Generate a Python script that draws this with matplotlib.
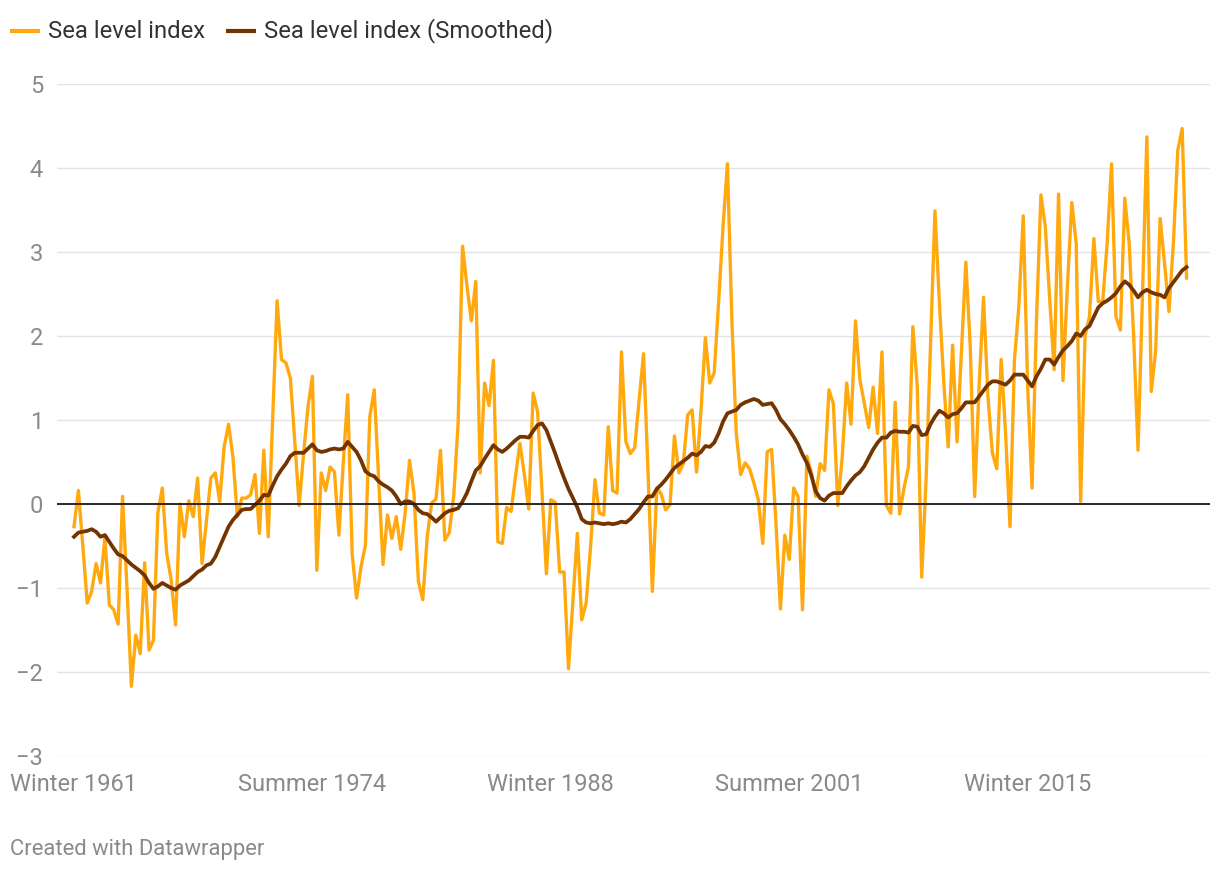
import matplotlib
matplotlib.use("Agg")
import matplotlib.pyplot as plt
from matplotlib.lines import Line2D

plt.rcParams['font.family'] = ['Roboto', 'DejaVu Sans']

seasons = ["Winter", "Spring", "Summer", "Autumn"]
start_year = 1961

sea_level = [
    -0.27, 0.16, -0.5, -1.18, -1.04, -0.71, -0.94, -0.40, -1.2, -1.26,
    -1.43, 0.09, -1.0, -2.17, -1.56, -1.78, -0.70, -1.74, -1.62, -0.1,
    0.19, -0.59, -0.9, -1.44, 0.0, -0.39, 0.04, -0.15, 0.31, -0.71,
    -0.2, 0.31, 0.37, 0.03, 0.68, 0.95, 0.56, -0.15, 0.07, 0.07,
    0.11, 0.35, -0.35, 0.64, -0.39, 1.0, 2.42, 1.72, 1.68, 1.5,
    0.75, -0.02, 0.6, 1.16, 1.52, -0.79, 0.37, 0.16, 0.44, 0.38,
    -0.37, 0.5, 1.30, -0.59, -1.12, -0.75, -0.49, 1.04, 1.36, 0.3,
    -0.72, -0.13, -0.41, -0.15, -0.54, -0.11, 0.52, 0.13, -0.92, -1.14,
    -0.39, 0.01, 0.06, 0.64, -0.43, -0.34, 0.09, 0.96, 3.07, 2.6,
    2.18, 2.65, 0.37, 1.44, 1.17, 1.71, -0.45, -0.47, -0.04, -0.09,
    0.33, 0.72, 0.35, -0.06, 1.32, 1.10, 0.15, -0.83, 0.05, 0.02,
    -0.81, -0.81, -1.96, -1.15, -0.35, -1.38, -1.18, -0.51, 0.29, -0.11,
    -0.13, 0.92, 0.16, 0.13, 1.81, 0.74, 0.60, 0.67, 1.24, 1.79,
    0.4, -1.04, 0.19, 0.12, -0.07, -0.01, 0.81, 0.37, 0.48, 1.06,
    1.12, 0.38, 1.1, 1.98, 1.44, 1.56, 2.4, 3.3, 4.05, 2.2,
    0.84, 0.35, 0.49, 0.42, 0.25, 0.05, -0.47, 0.62, 0.65, -0.23,
    -1.25, -0.37, -0.66, 0.19, 0.09, -1.26, 0.57, 0.37, 0.09, 0.48,
    0.40, 1.36, 1.19, -0.02, 0.56, 1.44, 0.95, 2.18, 1.48, 1.2,
    0.91, 1.39, 0.84, 1.81, -0.02, -0.11, 1.21, -0.12, 0.19, 0.44,
    2.11, 1.40, -0.87, 0.3, 1.9, 3.49, 2.4, 1.45, 0.68, 1.89,
    0.74, 1.8, 2.88, 1.87, 0.09, 1.40, 2.46, 1.28, 0.61, 0.42,
    1.72, 0.84, -0.27, 1.71, 2.35, 3.43, 1.4, 0.19, 2.19, 3.68,
    3.3, 2.43, 1.60, 3.69, 1.47, 2.59, 3.59, 3.1, 0.03, 2.0,
    2.23, 3.16, 2.41, 2.41, 3.1, 4.05, 2.23, 2.07, 3.64, 3.1,
    2.0, 0.64, 2.47, 4.37, 1.34, 1.83, 3.40, 2.87, 2.29, 3.1,
    4.21, 4.47, 2.69,
]

sea_level_smooth = [
    -0.39, -0.34, -0.33, -0.32, -0.30, -0.33, -0.39, -0.37, -0.45, -0.53,
    -0.60, -0.62, -0.67, -0.72, -0.76, -0.80, -0.85, -0.94, -1.01, -0.98,
    -0.94, -0.97, -1.0, -1.02, -0.97, -0.94, -0.91, -0.86, -0.81, -0.78,
    -0.73, -0.71, -0.63, -0.51, -0.39, -0.27, -0.19, -0.13, -0.07, -0.06,
    -0.06, -0.01, 0.04, 0.11, 0.10, 0.22, 0.33, 0.41, 0.48, 0.57,
    0.61, 0.61, 0.61, 0.66, 0.71, 0.64, 0.62, 0.63, 0.65, 0.66,
    0.65, 0.66, 0.74, 0.68, 0.62, 0.52, 0.39, 0.35, 0.33, 0.27,
    0.23, 0.20, 0.16, 0.09, 0.0, 0.03, 0.03, 0.0, -0.07, -0.11,
    -0.12, -0.16, -0.21, -0.16, -0.11, -0.08, -0.07, -0.05, 0.03, 0.13,
    0.27, 0.40, 0.45, 0.54, 0.62, 0.70, 0.65, 0.62, 0.66, 0.71,
    0.76, 0.80, 0.80, 0.79, 0.87, 0.94, 0.96, 0.88, 0.74, 0.60,
    0.45, 0.31, 0.18, 0.07, -0.04, -0.18, -0.22, -0.23, -0.22, -0.23,
    -0.24, -0.23, -0.24, -0.23, -0.21, -0.22, -0.18, -0.12, -0.06, 0.02,
    0.09, 0.09, 0.18, 0.23, 0.29, 0.36, 0.43, 0.47, 0.51, 0.55,
    0.60, 0.58, 0.62, 0.69, 0.68, 0.73, 0.84, 0.98, 1.08, 1.10,
    1.12, 1.18, 1.21, 1.23, 1.25, 1.23, 1.18, 1.19, 1.20, 1.12,
    1.01, 0.95, 0.88, 0.80, 0.71, 0.59, 0.49, 0.34, 0.15, 0.07,
    0.04, 0.10, 0.13, 0.13, 0.13, 0.21, 0.28, 0.34, 0.38, 0.45,
    0.55, 0.65, 0.73, 0.79, 0.79, 0.85, 0.87, 0.86, 0.86, 0.85,
    0.93, 0.92, 0.82, 0.83, 0.95, 1.04, 1.11, 1.08, 1.03, 1.07,
    1.08, 1.14, 1.21, 1.21, 1.21, 1.28, 1.35, 1.42, 1.46, 1.46,
    1.44, 1.42, 1.47, 1.54, 1.54, 1.54, 1.47, 1.40, 1.52, 1.61,
    1.72, 1.72, 1.66, 1.75, 1.83, 1.88, 1.94, 2.03, 2.0, 2.08,
    2.12, 2.23, 2.34, 2.39, 2.42, 2.46, 2.51, 2.59, 2.65, 2.61,
    2.54, 2.46, 2.52, 2.55, 2.52, 2.50, 2.49, 2.46, 2.57, 2.64,
    2.71, 2.78, 2.82,
]

labels = [f"{seasons[i % 4]} {start_year + i // 4}" for i in range(len(sea_level))]
tick_labels = ["Winter 1961", "Summer 1974", "Winter 1988", "Summer 2001", "Winter 2015"]
y_ticks = [-3, -2, -1, 0, 1, 2, 3, 4, 5]
legend_names = ["Sea level index", "Sea level index (Smoothed)"]

orange = '#ffa90f'
brown = '#733400'
grey_text = '#8a8a8a'
W, H = 1220, 872

fig = plt.figure(figsize=(W / 100, H / 100), dpi=100)
ax = fig.add_axes([57 / W, 116 / H, 1153 / W, 672 / H])

x = list(range(len(sea_level)))
ax.plot(x, sea_level, color=orange, lw=2.4, zorder=3)
ax.plot(x, sea_level_smooth, color=brown, lw=2.7, zorder=4)

ax.set_ylim(-3, 5)
ax.set_xlim(-3.85, 257.3)
ax.set_yticks(y_ticks)
ax.set_yticklabels([str(v).replace('-', '\u2212') for v in y_ticks])
ax.set_xticks([labels.index(t) for t in tick_labels])
ax.set_xticklabels(tick_labels)
ax.grid(axis='y', color='#e3e3e3', lw=1)
ax.axhline(0, color='#1a1a1a', lw=1.3, zorder=5)
for s in ax.spines.values():
    s.set_visible(False)
ax.tick_params(axis='both', length=0, labelsize=17, labelcolor=grey_text)
ax.tick_params(axis='y', pad=10)
ax.tick_params(axis='x', pad=12)

# legend drawn by hand in pixel positions
for (x0, tx), name, col in zip([(10, 48), (226, 264)], legend_names, [orange, brown]):
    fig.add_artist(Line2D([x0 / W, (x0 + 30) / W], [1 - 31 / H, 1 - 31 / H],
                          color=col, lw=3, solid_capstyle='butt'))
    fig.text(tx / W, 1 - 31 / H, name, fontsize=17.2, color='#333333',
             va='center', ha='left')

fig.text(10 / W, 1 - 849 / H, "Created with Datawrapper", fontsize=15.8,
         color=grey_text, va='center', ha='left')

fig.savefig("out.png", dpi=100)
